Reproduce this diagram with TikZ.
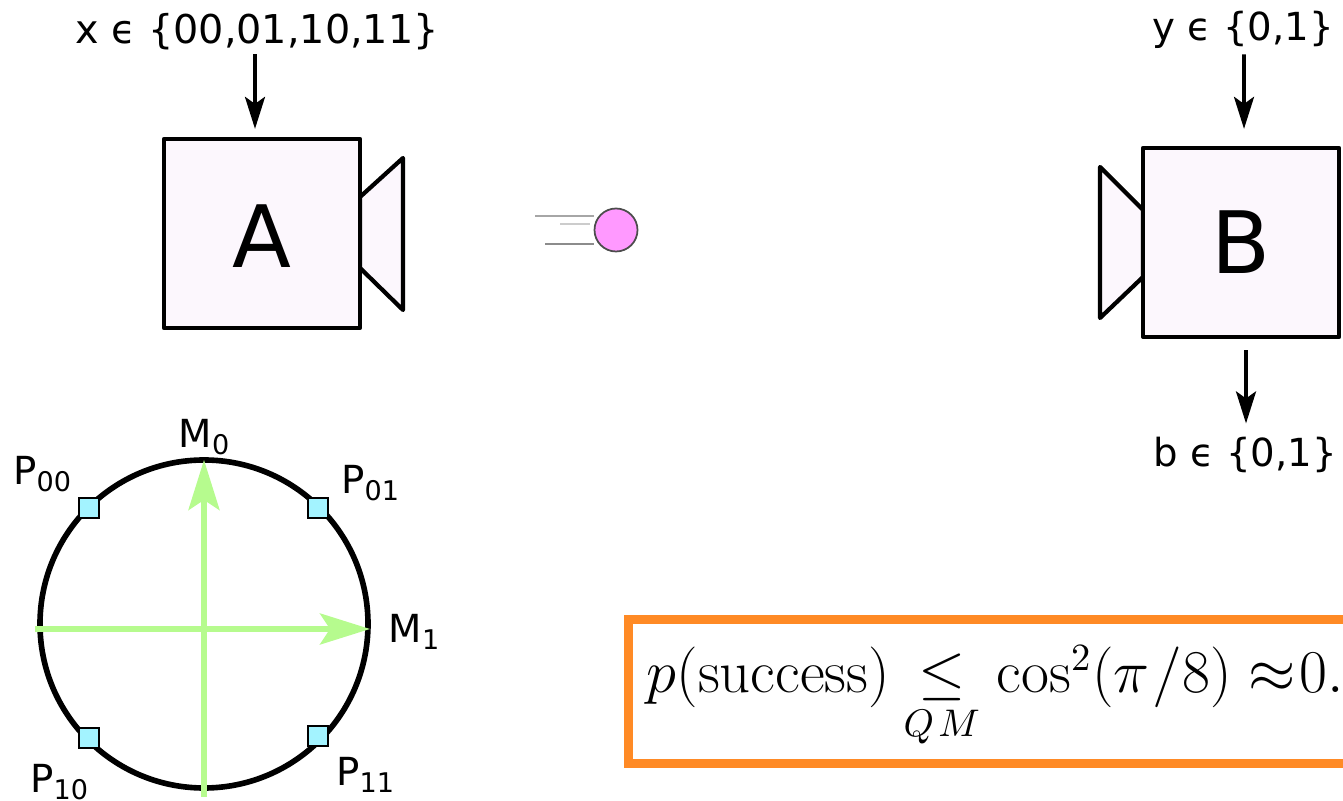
\documentclass[tikz,border=0pt]{standalone}
\usepackage{amsmath,amssymb}
\usepackage[no-math]{fontspec}
\usepackage{xcolor}
\usetikzlibrary{arrows.meta, positioning, calc}
\newfontfamily\labelfont{DejaVu Sans}
\definecolor{devicecolor}{HTML}{FCF7FD}
\definecolor{axiscolor}{HTML}{B6FB8E}
\definecolor{prepcolor}{HTML}{A3F3FF}
\definecolor{particlecolor}{HTML}{FF99FF}
\definecolor{framecolor}{HTML}{FF8A25}

\begin{document}
\begin{tikzpicture}[
    device/.style={rectangle, draw=black, line width=1.2pt, fill=devicecolor, line join=round, minimum width=1.96cm, minimum height=1.89cm, font=\labelfont\fontsize{24.5}{28}\selectfont},
    horn/.style={draw=black, line width=1.2pt, fill=devicecolor, line join=round},
    lbl/.style={font=\labelfont\fontsize{11}{13}\selectfont, inner sep=0pt},
    flow/.style={-{Stealth[length=0.32cm, width=0.2cm, inset=0.07cm]}, line width=1.05pt, black},
    axis/.style={-{Stealth[length=0.5cm, width=0.31cm, inset=0.1cm]}, line width=1.5pt, axiscolor},
    prep/.style={rectangle, draw=black, line width=0.6pt, fill=prepcolor, minimum size=0.2cm, inner sep=0pt},
    trail/.style={line width=0.5pt, gray!70}
]
\useasboundingbox (0,0) rectangle (13.43,-8.01);

% -- DEVICE A --
\draw[horn] (3.60,-1.97) -- (4.03,-1.58) -- (4.03,-3.10) -- (3.60,-2.68) -- cycle;
\node[device, text height=0.69cm] (boxA) at (2.62,-2.335) {A};
\node[lbl, font=\labelfont\fontsize{11.3}{13}\selectfont] (inx) at (2.57,-0.32) {x ϵ \{00,01,10,11\}};
\draw[flow] ([xshift=-0.02cm,yshift=-0.03cm]inx.south) -- ([xshift=-0.07cm,yshift=0.08cm]boxA.north);

% -- PARTICLE --
\node[circle, draw=black!70, line width=0.5pt, fill=particlecolor, minimum size=0.43cm, inner sep=0pt] (particle) at (6.16,-2.30) {};
\draw[trail] (5.35,-2.16) -- ([yshift=0.14cm]particle.west);
\draw[trail, gray!40, line width=0.8pt] (5.60,-2.24) -- ++(0.30,0);
\draw[trail, gray!90] (5.45,-2.44) -- ([yshift=-0.14cm]particle.west);

% -- DEVICE B --
\draw[horn] (11.43,-2.10) -- (11.00,-1.67) -- (11.00,-3.18) -- (11.43,-2.77) -- cycle;
\node[device] (boxB) at (12.41,-2.425) {B};
\node[lbl] (iny) at (12.43,-0.30) {y ϵ \{0,1\}};
\node[lbl] (outb) at (12.45,-4.55) {b ϵ \{0,1\}};
\draw[flow] ([xshift=0.01cm,yshift=-0.05cm]iny.south) -- ([xshift=0.03cm,yshift=0.17cm]boxB.north);
\draw[flow] ([xshift=0.05cm,yshift=-0.11cm]boxB.south) -- ([xshift=0.01cm,yshift=0.13cm]outb.north);

% -- MEASUREMENT CIRCLE --
\node[circle, draw=black, line width=1.6pt, minimum size=3.28cm, inner sep=0pt] (ring) at (2.04,-6.24) {};
\coordinate (m0start) at (2.04,-7.97);
\coordinate (m0tip) at (2.04,-4.60);
\coordinate (m1start) at (0.35,-6.29);
\coordinate (m1tip) at (3.70,-6.29);
\draw[axis] (m0start) -- (m0tip);
\draw[axis] (m1start) -- (m1tip);
\node[prep] (p00) at (0.89,-5.08) {};
\node[prep] (p01) at (3.18,-5.08) {};
\node[prep] (p10) at (0.89,-7.38) {};
\node[prep] (p11) at (3.18,-7.36) {};
\node[lbl] at (2.05,-4.37) {M\textsubscript{0}};
\node[lbl] at (4.15,-6.32) {M\textsubscript{1}};
\node[lbl] at (0.43,-4.74) {P\textsubscript{00}};
\node[lbl] at (3.71,-4.83) {P\textsubscript{01}};
\node[lbl] at (0.60,-7.82) {P\textsubscript{10}};
\node[lbl] at (3.66,-7.75) {P\textsubscript{11}};

% -- BOUND --
\node[rectangle, draw=framecolor, line width=2.6pt, outer sep=0pt, minimum width=8cm, minimum height=1.44cm, anchor=north west] (frame) at (6.285,-6.195) {};
\node[anchor=base west, inner sep=0pt, font=\fontsize{16}{19}\selectfont] (bound) at (6.46,-6.93) {$p(\mathrm{success})\mkern-1mu\underset{Q\mkern2mu M}{\leq}\cos^2(\pi\mkern1mu/8)\approx\mkern-4mu 0.$};
\end{tikzpicture}
\end{document}
